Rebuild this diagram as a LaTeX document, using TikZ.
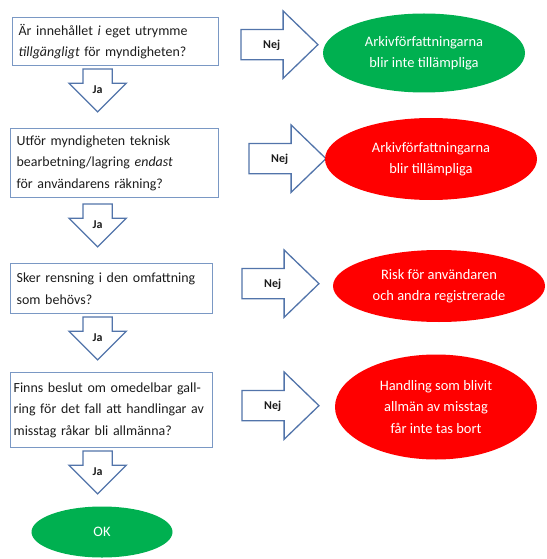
\documentclass[tikz,border=0pt]{standalone}
\usepackage{fontspec}
\setmainfont{Carlito}
\usetikzlibrary{shapes.geometric,shapes.arrows,positioning}
\definecolor{boxblue}{RGB}{122,152,196}
\definecolor{arrowblue}{RGB}{82,116,170}
\definecolor{okgreen}{RGB}{0,176,80}
\definecolor{stopred}{RGB}{255,0,0}
\definecolor{textgray}{RGB}{28,28,28}

\begin{document}
\begin{tikzpicture}[
  x=1bp, y=-1bp,
  question/.style={rectangle, draw=boxblue, line width=1.3bp, anchor=north west,
    align=left, inner xsep=6bp, inner ysep=0pt, text=textgray,
    font=\fontsize{14}{21.5}\selectfont},
  outcome/.style={ellipse, inner sep=0pt, align=center, text=white,
    font=\fontsize{14.5}{21.5}\selectfont},
  good/.style={outcome, fill=okgreen},
  bad/.style={outcome, fill=stopred},
  jaarrow/.style={single arrow, shape border rotate=270, anchor=tail,
    draw=arrowblue, fill=white, line width=1.3bp, inner sep=0pt,
    text width=28bp, text height=24bp, text depth=3bp, align=center,
    single arrow head extend=14bp, single arrow tip angle=90,
    text=textgray, font=\fontsize{12}{12}\selectfont\bfseries},
  nejarrow/.style={single arrow, anchor=tail,
    draw=arrowblue, fill=white, line width=1.3bp, inner sep=0pt,
    text width=30bp, text height=18.3bp, text depth=10.7bp, align=center,
    minimum height=77bp, single arrow head extend=18.5bp, single arrow tip angle=88,
    text=textgray, font=\fontsize{12}{12}\selectfont\bfseries}
]
\useasboundingbox (0,0) rectangle (547,559);

% questions
\node[question, text width=194bp, minimum height=48bp] (q1) at (12,17)
  {Är innehållet \emph{i} eget utrymme\\\emph{tillgängligt} för myndigheten?};
\node[question, text width=196bp, minimum height=69bp] (q2) at (10,128)
  {Utför myndigheten teknisk\\bearbetning/lagring \emph{endast}\\för användarens räkning?};
\node[question, text width=190bp, minimum height=50bp] (q3) at (10,263)
  {Sker rensning i den omfattning\\som behövs?};
\node[question, inner xsep=3bp, text width=196bp, minimum height=75bp] (q4) at (10,372)
  {Finns beslut om omedelbar gall-\\ring för det fall att handlingar av\\misstag råkar bli allmänna?};

% ja arrows
\node[jaarrow] (ja1) at ([xshift=-18bp,yshift=-2bp]q1.south) {Ja};
\node[jaarrow] (ja2) at ([xshift=-17bp,yshift=-5bp]q2.south) {Ja};
\node[jaarrow] (ja3) at ([xshift=-14bp,yshift=-2bp]q3.south) {Ja};
\node[jaarrow] (ja4) at ([xshift=-14bp,yshift=-2bp]q4.south) {Ja};

% nej arrows
\node[nejarrow, right=21bp of q1, anchor=tail, yshift=-3bp] (nej1) {Nej};
\node[nejarrow, right=29bp of q2, anchor=tail, yshift=4.5bp] (nej2) {Nej};
\node[nejarrow, right=28bp of q3, anchor=tail, yshift=5bp] (nej3) {Nej};
\node[nejarrow, right=28bp of q4, anchor=tail, yshift=4.5bp] (nej4) {Nej};

% outcomes
\node[good, minimum width=202bp, minimum height=79bp] (e1) at (424,53)
  {Arkivförfattningarna\\blir inte tillämpliga};
\node[bad, minimum width=212bp, minimum height=82bp] (e2) at (431,159)
  {Arkivförfattningarna\\blir tillämpliga};
\node[bad, minimum width=212bp, minimum height=72bp] (e3) at (439,286)
  {Risk för användaren\\och andra registrerade};
\node[bad, minimum width=202bp, minimum height=105bp] (e4) at (436,407)
  {Handling som blivit\\allmän av misstag\\får inte tas bort};
\node[good, minimum width=141bp, minimum height=51bp] (ok) at (102,532) {OK};
\end{tikzpicture}
\end{document}
